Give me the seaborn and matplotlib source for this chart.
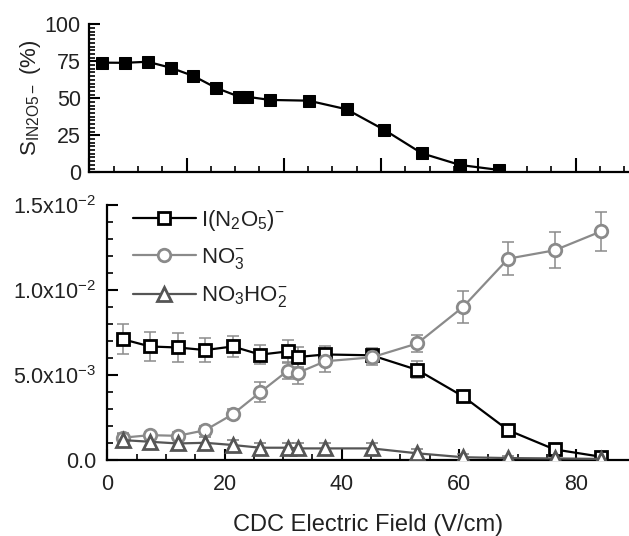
import matplotlib
matplotlib.use("Agg")
import matplotlib.pyplot as plt
from matplotlib.ticker import MultipleLocator, FixedLocator
import seaborn as sns
import pandas as pd

# CDC electric field settings (V/cm)
field = [2.6, 7.3, 12.0, 16.7, 21.4, 26.1, 30.8, 32.5, 37.2, 45.1, 52.9, 60.7, 68.4, 76.3, 84.2]

# Selectivity of the I(N2O5)- channel (%)
selectivity = [74.1, 74.0, 74.7, 70.7, 65.1, 57.0, 51.1, 51.0, 48.9, 48.4, 42.6, 28.6, 12.8, 4.9, 1.6]

# Ion signals and their uncertainties
i_n2o5 = [7.1e-3, 6.67e-3, 6.61e-3, 6.46e-3, 6.67e-3, 6.19e-3, 6.38e-3, 6.05e-3, 6.2e-3, 6.15e-3,
          5.29e-3, 3.73e-3, 1.74e-3, 0.61e-3, 0.18e-3]
i_n2o5_err = [0.9e-3, 0.88e-3, 0.88e-3, 0.68e-3, 0.63e-3, 0.56e-3, 0.68e-3, 0.6e-3, 0.5e-3, 0.45e-3,
              0.5e-3, 0.3e-3, 0.15e-3, 0.12e-3, 0.1e-3]
no3 = [1.3e-3, 1.45e-3, 1.41e-3, 1.74e-3, 2.68e-3, 3.98e-3, 5.25e-3, 5.12e-3, 5.8e-3, 6.03e-3,
       6.85e-3, 9.0e-3, 11.84e-3, 12.33e-3, 13.44e-3]
no3_err = [0.25e-3, 0.2e-3, 0.2e-3, 0.25e-3, 0.3e-3, 0.6e-3, 0.5e-3, 0.65e-3, 0.65e-3, 0.45e-3,
           0.5e-3, 0.93e-3, 0.97e-3, 1.05e-3, 1.13e-3]
no3ho2 = [1.16e-3, 1.06e-3, 0.96e-3, 1.0e-3, 0.87e-3, 0.71e-3, 0.71e-3, 0.67e-3, 0.67e-3, 0.67e-3,
          0.38e-3, 0.15e-3, 0.1e-3, 0.08e-3, 0.05e-3]
no3ho2_err = [0.35e-3, 0.35e-3, 0.35e-3, 0.35e-3, 0.3e-3, 0.3e-3, 0.3e-3, 0.3e-3, 0.3e-3, 0.3e-3,
              0.25e-3, 0.2e-3, 0.15e-3, 0.15e-3, 0.1e-3]

y_ticks = [0.0, 5e-3, 1e-2, 1.5e-2]
y_tick_labels = ["0.0", r"5.0x10$^{-3}$", r"1.0x10$^{-2}$", r"1.5x10$^{-2}$"]

sns.set_style("ticks")
plt.rcParams["font.family"] = ["Liberation Sans", "DejaVu Sans"]
plt.rcParams["mathtext.fontset"] = "custom"
plt.rcParams["mathtext.rm"] = "Liberation Sans"
plt.rcParams["mathtext.it"] = "Liberation Sans"
plt.rcParams["mathtext.default"] = "regular"

fig = plt.figure(figsize=(6.29, 5.36), dpi=100)
ax_top = fig.add_axes([0.142, 0.6786, 0.858, 0.276])
ax = fig.add_axes([0.1706, 0.1422, 0.8294, 0.4754])

tick_color = "#222222"
tick_size = 15.5


def style_axes(a, pad):
    for side in ("top", "right"):
        a.spines[side].set_visible(False)
    for side in ("left", "bottom"):
        a.spines[side].set_linewidth(1.6)
        a.spines[side].set_color("black")
    a.tick_params(which="major", direction="in", length=8, width=1.5, colors="black",
                  labelcolor=tick_color, labelsize=tick_size, pad=pad)
    a.tick_params(which="minor", direction="in", length=4.5, width=1.2, colors="black")


# Upper panel: selectivity
df_top = pd.DataFrame({"field": field, "sel": selectivity})
sns.lineplot(data=df_top, x="field", y="sel", ax=ax_top, color="black", lw=1.6,
             marker="s", markersize=8.5, markerfacecolor="black", markeredgecolor="black",
             legend=False)
ax_top.set_xlim(0, 111)
ax_top.set_ylim(0, 100)
ax_top.xaxis.set_major_locator(MultipleLocator(20))
ax_top.xaxis.set_minor_locator(MultipleLocator(5))
ax_top.yaxis.set_major_locator(MultipleLocator(25))
ax_top.yaxis.set_minor_locator(MultipleLocator(2.5))
style_axes(ax_top, 6)
ax_top.tick_params(axis="x", labelbottom=False)
ax_top.tick_params(axis="x", which="major", length=10)
ax_top.tick_params(axis="y", which="minor", length=4)
ax_top.set_xlabel("")
ax_top.set_ylabel(r"S$_{\mathregular{IN2O5-}}$ (%)", fontsize=16, color=tick_color, labelpad=1)

# Lower panel: ion signals with error bars
series = [
    ("I(N$_2$O$_5$)$^{-}$", i_n2o5, i_n2o5_err, "s", "black", "#8c8c8c", 8.5),
    ("NO$_3^{-}$", no3, no3_err, "o", "#8a8a8a", "#8a8a8a", 9),
    ("NO$_3$HO$_2^{-}$", no3ho2, no3ho2_err, "^", "#555555", "#777777", 9.5),
]
for label, vals, errs, mk, col, ecol, ms in series:
    ax.errorbar(field, vals, yerr=errs, fmt="none", ecolor=ecol, elinewidth=1.1,
                capsize=4, capthick=1.1, zorder=2)
for label, vals, errs, mk, col, ecol, ms in series:
    df = pd.DataFrame({"field": field, "val": vals})
    sns.lineplot(data=df, x="field", y="val", ax=ax, color=col, lw=1.6, marker=mk,
                 markersize=ms, markerfacecolor="white", markeredgecolor=col,
                 markeredgewidth=2.0, label=label, zorder=3)

ax.set_xlim(0, 89)
ax.set_ylim(0, 0.015)
ax.xaxis.set_major_locator(MultipleLocator(20))
ax.xaxis.set_minor_locator(MultipleLocator(5))
ax.yaxis.set_major_locator(FixedLocator(y_ticks))
ax.yaxis.set_minor_locator(MultipleLocator(0.001))
ax.set_yticklabels(y_tick_labels)
style_axes(ax, 8)
ax.tick_params(axis="x", pad=10)
ax.set_xlabel("CDC Electric Field (V/cm)", fontsize=17, color=tick_color, labelpad=14)
ax.set_ylabel("")

leg = ax.legend(loc="upper left", bbox_to_anchor=(0.02, 1.05), frameon=False, fontsize=16,
                handlelength=2.8, handletextpad=0.25, labelspacing=0.6, borderaxespad=0.3)
for t in leg.get_texts():
    t.set_color(tick_color)

fig.savefig("out.png", dpi=100)
